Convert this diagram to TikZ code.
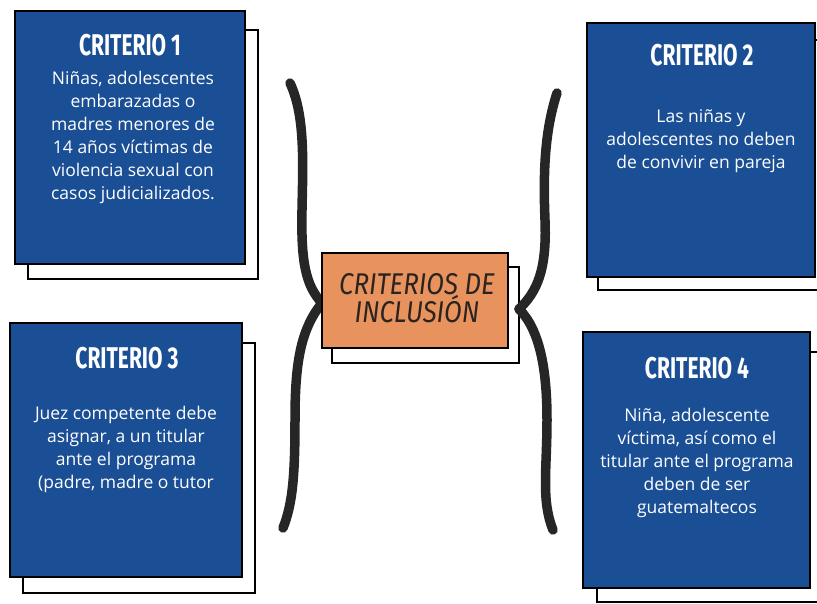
\documentclass[tikz,border=0pt]{standalone}
\usepackage{fontspec}
\setmainfont{Open Sans}
\newfontfamily\titlefont[FakeStretch=0.7]{Fira Sans}
\newfontfamily\hubfont[FakeStretch=0.86]{Fira Sans}
\usepackage{tikz}
\definecolor{critblue}{HTML}{1B4F95}
\definecolor{huborange}{HTML}{E8925E}
\definecolor{hubtext}{HTML}{2B2320}

\begin{document}
\begin{tikzpicture}[x=1pt,y=-1pt,
  shadowbox/.style={draw=black,line width=2pt,fill=white,inner sep=0pt},
  critbox/.style={draw=black,line width=2.5pt,fill=critblue,inner sep=0pt},
  crittitle/.style={text=white,font=\titlefont\bfseries\fontsize{30}{32}\selectfont},
  critbody/.style={text=white,align=center,font=\fontsize{17.5}{23}\selectfont},
  branch/.style={line width=9.5pt,line cap=round,black!85}]
\useasboundingbox (0,0) rectangle (817,603);

% sombras
\node[shadowbox,minimum width=230,minimum height=249] (s1) at (143,154.5) {};
\node[shadowbox,minimum width=230,minimum height=250] (s2) at (713,165) {};
\node[shadowbox,minimum width=232,minimum height=250] (s3) at (139,468) {};
\node[shadowbox,minimum width=221,minimum height=250] (s4) at (707.5,477) {};
\node[shadowbox,minimum width=187,minimum height=96] (hs) at (425.5,315) {};

% ramas
\coordinate (hubL) at (322,303);
\coordinate (hubR) at (519,309);
\draw[branch] (290,83) .. controls (305,115) and (303,160) .. (302,210)
  .. controls (301,260) and (305,285) .. (hubL);
\draw[branch] (hubL) .. controls (300,330) and (295,365) .. (295,420)
  .. controls (295,480) and (292,505) .. (283,528);
\draw[branch] (557,93) .. controls (545,130) and (543,170) .. (545,220)
  .. controls (547,270) and (537,292) .. (hubR);
\draw[branch] (hubR) .. controls (540,330) and (547,370) .. (547,420)
  .. controls (547,470) and (541,500) .. (553,530);

% centro
\node[draw=black,line width=2.5pt,fill=huborange,inner sep=0pt,
  minimum width=186,minimum height=95] (hub) at (415,300.5) {};
\node[text=hubtext,align=center,font=\hubfont\itshape\fontsize{30}{28}\selectfont]
  (hubtxt) at (417,298) {CRITERIOS DE\\INCLUSIÓN};

% 1. criterio 1
\node[critbox,minimum width=230,minimum height=253] (c1) at (130,137.5) {};
\node[crittitle] (t1) at (130,45) {CRITERIO 1};
\node[critbody] (b1) at (133,137) {Niñas, adolescentes\\embarazadas o\\madres menores de\\14 años víctimas de\\violencia sexual con\\casos judicializados.};

% 2. criterio 2
\node[critbox,minimum width=228,minimum height=254] (c2) at (701,150) {};
\node[crittitle] (t2) at (702,55) {CRITERIO 2};
\node[critbody] (b2) at (701,141) {Las niñas y\\adolescentes no deben\\de convivir en pareja};

% 3. criterio 3
\node[critbox,minimum width=232,minimum height=254] (c3) at (126,450) {};
\node[crittitle] (t3) at (127,358) {CRITERIO 3};
\node[critbody] (b3) at (126,449) {Juez competente debe\\asignar, a un titular\\ante el programa\\(padre, madre o tutor};

% 4. criterio 4
\node[critbox,minimum width=227,minimum height=256] (c4) at (696.5,460) {};
\node[crittitle] (t4) at (697,368) {CRITERIO 4};
\node[critbody] (b4) at (697,463) {Niña, adolescente\\víctima, así como el\\titular ante el programa\\deben de ser\\guatemaltecos};
\end{tikzpicture}
\end{document}
